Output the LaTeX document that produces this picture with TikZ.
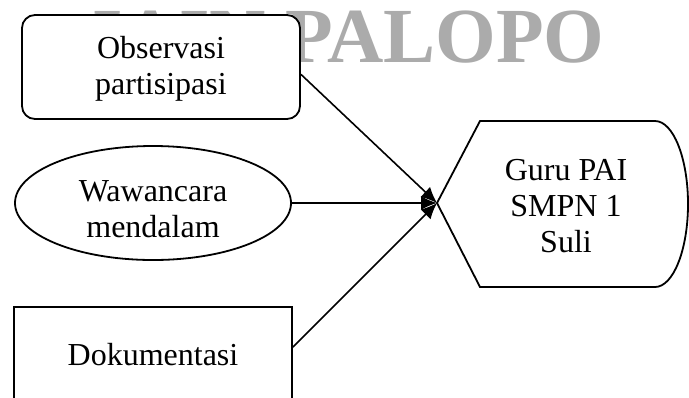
\documentclass[tikz,border=0pt]{standalone}
\usepackage{fontspec}
\setmainfont{Liberation Serif}
\usetikzlibrary{shapes.geometric,arrows.meta}
\tikzstyle{txt} = [align=center, font=\fontsize{16}{18}\selectfont]
\tikzstyle{rbox} = [txt, rectangle, draw=black, line width=0.9pt, fill=white, rounded corners=6.5pt, minimum width=139pt, minimum height=52pt]
\tikzstyle{ell} = [txt, ellipse, draw=black, line width=0.9pt, fill=white, minimum width=138pt, minimum height=57pt, inner sep=0pt]
\tikzstyle{sbox} = [txt, rectangle, draw=black, line width=0.9pt, fill=white, minimum width=139pt, minimum height=47.5pt]
\tikzstyle{wm} = [font=\fontsize{39}{39}\selectfont\bfseries, text=black!33, anchor=base west, inner sep=0pt]
\tikzstyle{conn} = [line width=0.8pt, -{Latex[length=8pt,width=7pt]}]

\begin{document}
\begin{tikzpicture}[x=0.5pt,y=-0.5pt]
    \useasboundingbox (0,0) rectangle (689,397);
    \node (Mark) [wm] at (92,62) {IAIN PALOPO};
    \node (Obs) [rbox] at (161,67) {\rule{0pt}{13pt}Observasi\\partisipasi};
    \node (Waw) [ell] at (153,203) {\rule{0pt}{17pt}Wawancara\\mendalam};
    \node (Dok) [sbox] at (153,354.5) {Dokumentasi};
    \draw[line width=0.9pt, fill=white] (437,203) -- (480,121) -- (655,121)
        arc[start angle=90, end angle=-90, x radius=16.5pt, y radius=41.5pt] -- (480,287) -- cycle;
    \coordinate (GuruW) at (437,203);
    \node (Guru) [txt] at (566,206) {Guru PAI\\SMPN 1\\Suli};
    \draw[conn] (Obs.-3) -- (GuruW);
    \draw[conn] (Waw.east) -- (GuruW);
    \draw[conn] (Dok.3) -- (GuruW);
\end{tikzpicture}
\end{document}
